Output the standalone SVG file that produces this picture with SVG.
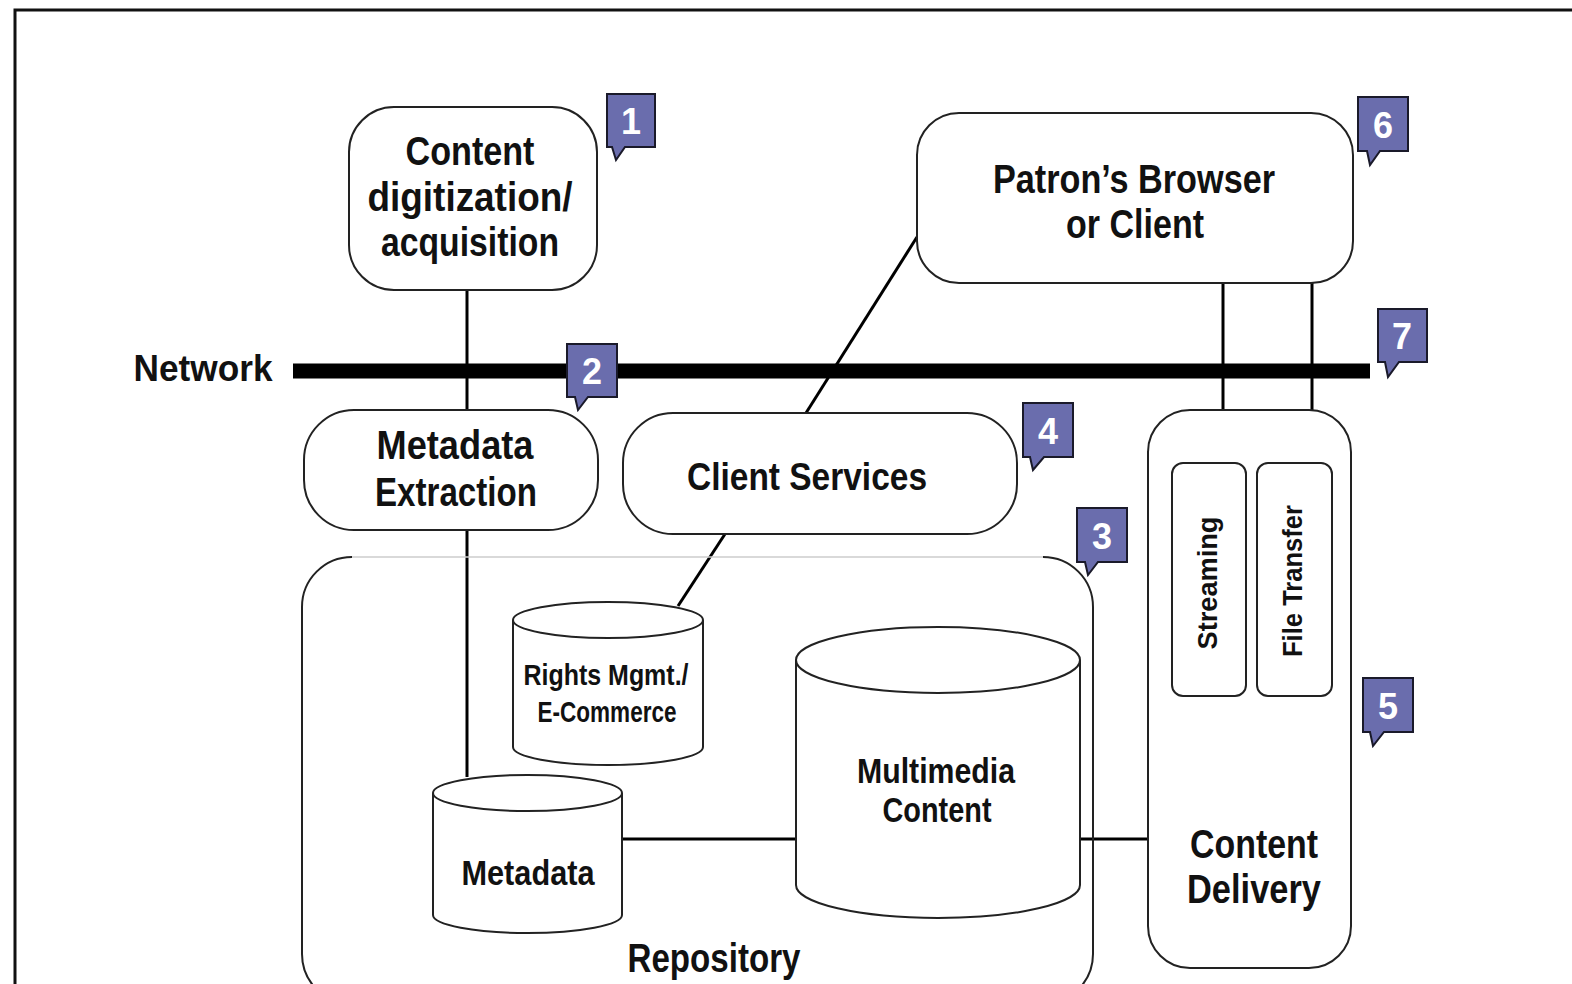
<svg xmlns="http://www.w3.org/2000/svg" width="1572" height="984" viewBox="0 0 1572 984">
<style>
.t{font-family:"Liberation Sans Narrow","Liberation Sans",Arial,sans-serif;font-weight:bold;fill:#111;text-anchor:middle}
.box{fill:#fff;stroke:#222;stroke-width:2}
.ln{stroke:#000;stroke-width:3;fill:none}
.bd{fill:#6a6dad;stroke:#1a1a2a;stroke-width:2;stroke-linejoin:miter}
.bn{font-family:"Liberation Sans",Arial,sans-serif;font-weight:bold;fill:#fff;font-size:36px;text-anchor:middle}
</style>
<rect x="0" y="0" width="1572" height="984" fill="#fff"/>
<rect x="15" y="10" width="1600" height="1000" fill="none" stroke="#111" stroke-width="3"/>

<g id="connectors">
<line class="ln" x1="467" y1="290" x2="467" y2="410"/>
<line class="ln" x1="467" y1="530" x2="467" y2="777"/>
<line class="ln" x1="917" y1="237" x2="806" y2="413"/>
<line class="ln" x1="725" y1="534" x2="678" y2="606"/>
<line class="ln" x1="1223" y1="283" x2="1223" y2="463"/>
<line class="ln" x1="1312" y1="283" x2="1312" y2="463"/>
<line class="ln" x1="621" y1="839" x2="796" y2="839"/>
<line class="ln" x1="1080" y1="839" x2="1149" y2="839"/>
</g>

<g id="network">
<line x1="293" y1="371" x2="1370" y2="371" stroke="#000" stroke-width="15"/>
<text class="t" x="203" y="381" font-size="37" textLength="139" lengthAdjust="spacingAndGlyphs">Network</text>
</g>

<g id="content-digitization">
<rect class="box" x="349" y="107" width="248" height="183" rx="45"/>
<text class="t" x="470" y="165" font-size="40" textLength="129" lengthAdjust="spacingAndGlyphs">Content</text>
<text class="t" x="470" y="211" font-size="40" textLength="205" lengthAdjust="spacingAndGlyphs">digitization/</text>
<text class="t" x="470" y="256" font-size="40" textLength="178" lengthAdjust="spacingAndGlyphs">acquisition</text>
</g>

<g id="patron-browser">
<rect class="box" x="917" y="113" width="436" height="170" rx="42"/>
<text class="t" x="1134" y="193" font-size="40" textLength="282" lengthAdjust="spacingAndGlyphs">Patron’s Browser</text>
<text class="t" x="1135" y="238" font-size="40" textLength="138" lengthAdjust="spacingAndGlyphs">or Client</text>
</g>

<g id="metadata-extraction">
<rect class="box" x="304" y="410" width="294" height="120" rx="50"/>
<text class="t" x="455" y="459" font-size="40" textLength="157" lengthAdjust="spacingAndGlyphs">Metadata</text>
<text class="t" x="456" y="506" font-size="40" textLength="162" lengthAdjust="spacingAndGlyphs">Extraction</text>
</g>

<g id="client-services">
<rect class="box" x="623" y="413" width="394" height="121" rx="50"/>
<text class="t" x="807" y="490" font-size="39" textLength="240" lengthAdjust="spacingAndGlyphs">Client Services</text>
</g>

<g id="repository">
<path d="M352,557 H1043" fill="none" stroke="#ccc" stroke-width="1.5"/>
<path d="M1043,557 A50,50 0 0 1 1093,607 V954 A50,50 0 0 1 1043,1004 H352 A50,50 0 0 1 302,954 V607 A50,50 0 0 1 352,557" fill="none" stroke="#222" stroke-width="2"/>
<text class="t" x="714" y="972" font-size="40" textLength="173" lengthAdjust="spacingAndGlyphs">Repository</text>
</g>

<g id="rights-mgmt">
<path class="box" d="M513,620 V747 A95,18 0 0 0 703,747 V620"/>
<ellipse class="box" cx="608" cy="620" rx="95" ry="18"/>
<text class="t" x="606" y="685" font-size="30" textLength="165" lengthAdjust="spacingAndGlyphs">Rights Mgmt./</text>
<text class="t" x="607" y="722" font-size="30" textLength="139" lengthAdjust="spacingAndGlyphs">E-Commerce</text>
</g>

<g id="metadata">
<path class="box" d="M433,793 V915 A94.5,18 0 0 0 622,915 V793"/>
<ellipse class="box" cx="527.5" cy="793" rx="94.5" ry="18"/>
<text class="t" x="528" y="885" font-size="35" textLength="133" lengthAdjust="spacingAndGlyphs">Metadata</text>
</g>

<g id="multimedia-content">
<path class="box" d="M796,660 V885 A142,33 0 0 0 1080,885 V660"/>
<ellipse class="box" cx="938" cy="660" rx="142" ry="33"/>
<text class="t" x="936" y="783" font-size="35" textLength="158" lengthAdjust="spacingAndGlyphs">Multimedia</text>
<text class="t" x="937" y="822" font-size="35" textLength="109" lengthAdjust="spacingAndGlyphs">Content</text>
</g>

<g id="content-delivery">
<rect class="box" x="1148" y="410" width="203" height="558" rx="42"/>
<text class="t" x="1254" y="858" font-size="40" textLength="128" lengthAdjust="spacingAndGlyphs">Content</text>
<text class="t" x="1254" y="903" font-size="40" textLength="134" lengthAdjust="spacingAndGlyphs">Delivery</text>
</g>

<g id="streaming">
<rect class="box" x="1172" y="463" width="74" height="233" rx="11"/>
<text class="t" transform="translate(1217,583) rotate(-90)" font-size="28" textLength="133" lengthAdjust="spacingAndGlyphs">Streaming</text>
</g>

<g id="file-transfer">
<rect class="box" x="1257" y="463" width="75" height="233" rx="11"/>
<text class="t" transform="translate(1302,581) rotate(-90)" font-size="28" textLength="152" lengthAdjust="spacingAndGlyphs">File Transfer</text>
</g>

<g id="badge-1">
<path class="bd" d="M607,94 H655 V147 H625 L616,160 L612,147 H607 Z"/>
<text class="bn" x="631" y="134">1</text>
</g>
<g id="badge-2">
<path class="bd" d="M567,344 H617 V397 H588 L578,410 L575,397 H567 Z"/>
<text class="bn" x="592" y="384">2</text>
</g>
<g id="badge-3">
<path class="bd" d="M1077,508 H1127 V562 H1098 L1088,575 L1085,562 H1077 Z"/>
<text class="bn" x="1102" y="549">3</text>
</g>
<g id="badge-4">
<path class="bd" d="M1023,403 H1073 V457 H1044 L1033,470 L1030,457 H1023 Z"/>
<text class="bn" x="1048" y="444">4</text>
</g>
<g id="badge-5">
<path class="bd" d="M1363,678 H1413 V732 H1384 L1373,746 L1370,732 H1363 Z"/>
<text class="bn" x="1388" y="719">5</text>
</g>
<g id="badge-6">
<path class="bd" d="M1358,97 H1408 V151 H1380 L1370,165 L1367,151 H1358 Z"/>
<text class="bn" x="1383" y="138">6</text>
</g>
<g id="badge-7">
<path class="bd" d="M1378,309 H1427 V362 H1399 L1388,377 L1385,362 H1378 Z"/>
<text class="bn" x="1402" y="349">7</text>
</g>
</svg>
